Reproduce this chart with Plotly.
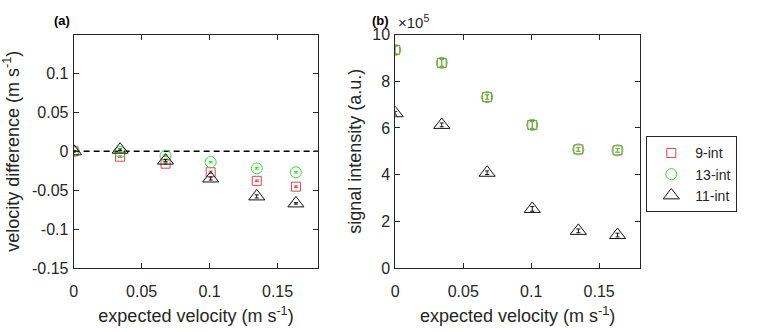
import plotly.graph_objects as go

# ---- data ----
expected_velocity = [0.0, 0.0342, 0.0676, 0.1008, 0.1347, 0.1635]

vdiff_9int = [0.0, -0.007, -0.016, -0.027, -0.038, -0.0455]
vdiff_13int = [0.0, -0.001, -0.0057, -0.014, -0.022, -0.027]
vdiff_11int = [0.0, 0.002, -0.012, -0.035, -0.058, -0.067]
vdiff_err_9int = [0.001, 0.001, 0.001, 0.0015, 0.001, 0.001]
vdiff_err_13int = [0.001, 0.001, 0.001, 0.001, 0.001, 0.001]
vdiff_err_11int = [0.001, 0.001, 0.0015, 0.002, 0.002, 0.001]

signal_9int = [9.34e5, 8.79e5, 7.32e5, 6.13e5, 5.08e5, 5.04e5]
signal_13int = [9.34e5, 8.79e5, 7.32e5, 6.13e5, 5.08e5, 5.04e5]
signal_11int = [6.63e5, 6.13e5, 4.08e5, 2.53e5, 1.59e5, 1.41e5]
signal_err_9int = [0.15e5, 0.15e5, 0.1e5, 0.15e5, 0.08e5, 0.08e5]
signal_err_13int = [0.15e5, 0.15e5, 0.1e5, 0.15e5, 0.08e5, 0.08e5]
signal_err_11int = [0.08e5, 0.08e5, 0.08e5, 0.1e5, 0.08e5, 0.08e5]

series_names = ["9-int", "13-int", "11-int"]

x_ticks = [0, 0.05, 0.1, 0.15]
x_ticktext = ["0", "0.05", "0.1", "0.15"]
ya_ticks = [-0.15, -0.1, -0.05, 0, 0.05, 0.1]
ya_ticktext = ["-0.15", "-0.1", "-0.05", "0", "0.05", "0.1"]
yb_ticks = [0, 2e5, 4e5, 6e5, 8e5, 10e5]
yb_ticktext = ["0", "2", "4", "6", "8", "10"]

RED = "#d9464b"
GREEN = "#33dd33"
BLACK = "#111111"
FONT = "Liberation Sans, Arial, sans-serif"
AX = "#262626"

fig = go.Figure()

styles = [
    (series_names[0], "square-open", RED, 9),
    (series_names[1], "circle-open", GREEN, 11),
    (series_names[2], "triangle-up-open", BLACK, 14),
]

a_vals = [vdiff_9int, vdiff_13int, vdiff_11int]
a_errs = [vdiff_err_9int, vdiff_err_13int, vdiff_err_11int]
b_vals = [signal_9int, signal_13int, signal_11int]
b_errs = [signal_err_9int, signal_err_13int, signal_err_11int]

for (name, sym, col, sz), yv, ye in zip(styles, a_vals, a_errs):
    fig.add_trace(go.Scatter(
        x=expected_velocity, y=yv, mode="markers", name=name, showlegend=False,
        marker=dict(symbol=sym, color=col, size=sz, line=dict(width=1, color=col)),
        error_y=dict(type="data", array=ye, color=col, thickness=1, width=2),
        xaxis="x", yaxis="y"))

for (name, sym, col, sz), yv, ye in zip(styles, b_vals, b_errs):
    fig.add_trace(go.Scatter(
        x=expected_velocity, y=yv, mode="markers", name=name, showlegend=True,
        marker=dict(symbol=sym, color=col, size=sz, line=dict(width=1, color=col)),
        error_y=dict(type="data", array=ye, color=col, thickness=1, width=2),
        xaxis="x2", yaxis="y2"))

# dashed zero line in panel (a)
fig.add_shape(type="line", xref="x domain", yref="y", x0=0, x1=1, y0=0, y1=0,
              line=dict(color="black", width=1.3, dash="6px,4px"), layer="below")

axis_common = dict(
    showline=True, linecolor=AX, linewidth=1, mirror="ticks",
    ticks="inside", ticklen=5, tickcolor=AX, tickwidth=1,
    showgrid=False, zeroline=False,
    tickfont=dict(family=FONT, size=16, color=AX),
)
TITLE_FONT = dict(family=FONT, size=18, color=AX)

fig.update_layout(
    width=762, height=332,
    margin=dict(l=0, r=0, t=0, b=0),
    paper_bgcolor="white", plot_bgcolor="white",
    font=dict(family=FONT, color=AX),
    xaxis=dict(domain=[70 / 762, 316 / 762], range=[0, 0.18],
               tickvals=x_ticks, ticktext=x_ticktext, ticklabelstandoff=9,
               title=dict(text="expected velocity (m s<sup>-1</sup>)",
                          font=TITLE_FONT, standoff=10),
               anchor="y", **axis_common),
    yaxis=dict(domain=[58 / 332, 304 / 332], range=[-0.15, 0.15],
               tickvals=ya_ticks, ticktext=ya_ticktext, ticklabelstandoff=1,
               title=dict(text="velocity difference (m s<sup>-1</sup>)",
                          font=TITLE_FONT, standoff=9),
               anchor="x", **axis_common),
    xaxis2=dict(domain=[393.3 / 762, 639.3 / 762], range=[0, 0.18],
                tickvals=x_ticks, ticktext=x_ticktext, ticklabelstandoff=9,
                title=dict(text="expected velocity (m s<sup>-1</sup>)",
                           font=TITLE_FONT, standoff=10),
                anchor="y2", **axis_common),
    yaxis2=dict(domain=[58 / 332, 304 / 332], range=[0, 10e5],
                tickvals=yb_ticks, ticktext=yb_ticktext, ticklabelstandoff=1,
                title=dict(text="signal intensity (a.u.)",
                           font=TITLE_FONT, standoff=5),
                anchor="x2", **axis_common),
    legend=dict(x=645.7 / 762, y=(332 - 135.3) / 332, xanchor="left", yanchor="top",
                bordercolor=AX, borderwidth=1, bgcolor="white",
                font=dict(family=FONT, size=14, color=AX),
                tracegroupgap=0, itemwidth=38),
    showlegend=True,
)

fig.add_annotation(text="<b>(a)</b>", xref="paper", yref="paper",
                   x=58 / 762, y=(332 - 13) / 332, xanchor="center", yanchor="middle",
                   showarrow=False, font=dict(family=FONT, size=13, color="black"))
fig.add_annotation(text="<b>(b)</b>", xref="paper", yref="paper",
                   x=378 / 762, y=(332 - 13) / 332, xanchor="center", yanchor="middle",
                   showarrow=False, font=dict(family=FONT, size=13, color="black"))
fig.add_annotation(text="×10<sup>5</sup>", xref="paper", yref="paper",
                   x=394 / 762, y=(332 - 14) / 332, xanchor="left", yanchor="middle",
                   showarrow=False, font=dict(family=FONT, size=15, color=AX))

fig.write_html("out.html")
